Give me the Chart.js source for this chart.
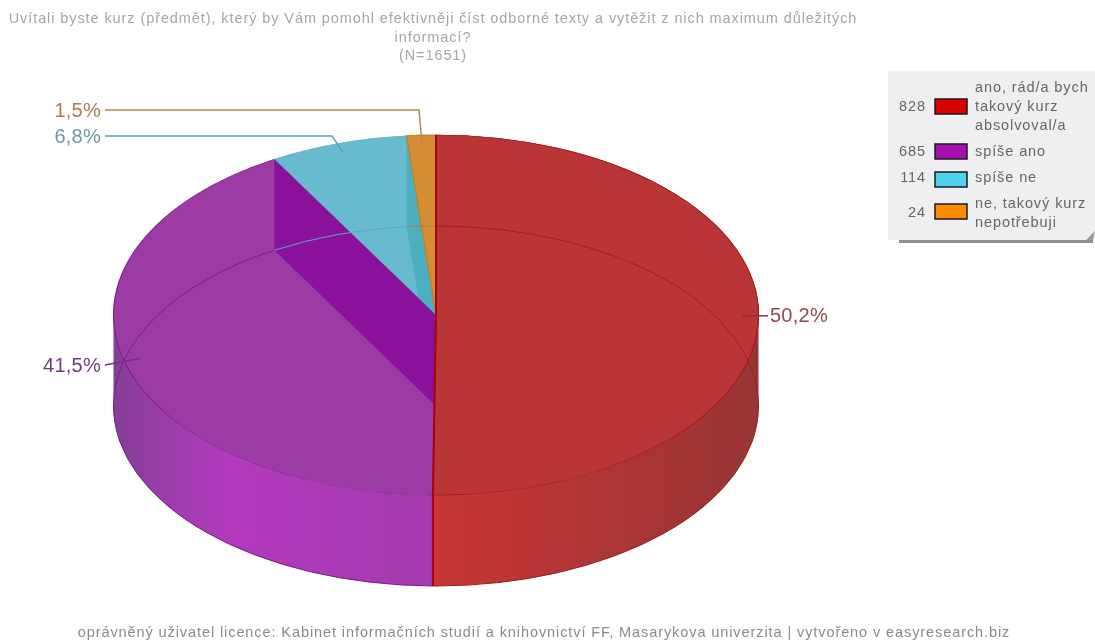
<!DOCTYPE html>
<html>
<head>
<meta charset="utf-8">
<style>
  html, body { margin: 0; padding: 0; background: #fff; }
  #wrap { position: relative; width: 1095px; height: 641px; }
  #chart { filter: blur(0.4px); }
</style>
<script src="https://cdn.jsdelivr.net/npm/chart.js@4"></script>
</head>
<body>
<div id="wrap"><canvas id="chart" width="1095" height="641"></canvas></div>
<script>
const categories = [["ano, rád/a bych", "takový kurz", "absolvoval/a"], ["spíše ano"], ["spíše ne"], ["ne, takový kurz", "nepotřebuji"]]
const counts = [828, 685, 114, 24]
const percentLabels = ["50,2%", "41,5%", "6,8%", "1,5%"]
const titleLines = ["Uvítali byste kurz (předmět), který by Vám pomohl efektivněji číst odborné texty a vytěžit z nich maximum důležitých", "informací?", "(N=1651)"]
const footerText = "oprávněný uživatel licence: Kabinet informačních studií a knihovnictví FF, Masarykova univerzita | vytvořeno v easyresearch.biz"

const topColors = ["#ba3535", "#9d3ba5", "#68bace", "#d58d33"]
const edgeColors = ["#a51d1d", "#7f1a90", "#58a9be", "#c07c22"]
const swatchColors = ["#dd0000", "#a80fb3", "#4dd2ee", "#ff8c00"]
const labelColors = ["#8f4a4a", "#6f3a7c", "#6f98a3", "#a87f50"]
const leaderColors = ["#9a2a2a", "#74308a", "#4fa3b4", "#b98a50"]

// where the flattened pie sits on the page
const CX = 436, CY = 315, RX = 322.5, RY = 180, DEPTH = 91
const FONT = "'Liberation Sans', Arial, sans-serif"
const TRACKING = "0.91px"

const ellipseAt = (angle, drop = 0) => ({
  x: CX + RX * Math.cos(angle),
  y: CY + RY * Math.sin(angle) + drop
})

// run fn with the context squashed so library arcs land on the ellipse
const squashed = (ctx, arc, fn) => {
  ctx.save()
  ctx.translate(CX, CY)
  ctx.scale(RX / arc.outerRadius, RY / arc.outerRadius)
  ctx.translate(-arc.x, -arc.y)
  fn()
  ctx.restore()
}

const sideWall = (ctx, start, end, stops, stroke) => {
  const grad = ctx.createLinearGradient(CX - RX, 0, CX + RX, 0)
  stops.forEach(s => grad.addColorStop(s[0], s[1]))
  ctx.beginPath()
  ctx.ellipse(CX, CY, RX, RY, 0, start, end)
  ctx.ellipse(CX, CY + DEPTH, RX, RY, 0, end, start, true)
  ctx.closePath()
  ctx.fillStyle = grad
  ctx.fill()
  ctx.beginPath()
  ctx.ellipse(CX, CY + DEPTH, RX, RY, 0, start, end)
  ctx.strokeStyle = stroke
  ctx.lineWidth = 1
  ctx.stroke()
}

const innerWall = (ctx, angle, color) => {
  const a = ellipseAt(angle)
  ctx.beginPath()
  ctx.moveTo(a.x, a.y)
  ctx.lineTo(CX, CY)
  ctx.lineTo(CX, CY + DEPTH)
  ctx.lineTo(a.x, a.y + DEPTH)
  ctx.closePath()
  ctx.fillStyle = color
  ctx.fill()
}

const pie3d = {
  id: "pie3d",
  beforeDraw(chart) {
    chart.ctx.letterSpacing = TRACKING
  },
  beforeDatasetsDraw(chart) {
    const ctx = chart.ctx
    const arcs = chart.getDatasetMeta(0).data
    ctx.letterSpacing = "0px"
    sideWall(ctx, arcs[0].endAngle, Math.PI,
      [[0, "#853f97"], [0.18, "#b43abf"], [0.5, "#a33aad"]], "#7a1a8c")
    sideWall(ctx, 0, arcs[0].endAngle,
      [[0.5, "#c83535"], [1, "#973535"]], "#96201f")
    ctx.save()
    ctx.translate(CX, CY)
    ctx.scale(RX / arcs[0].outerRadius, RY / arcs[0].outerRadius)
    ctx.translate(-arcs[0].x, -arcs[0].y)
  },
  afterDatasetsDraw(chart) {
    const ctx = chart.ctx
    ctx.restore()
    const arcs = chart.getDatasetMeta(0).data

    // slices stack back to front: teal wall, orange top, purple wall, red top
    innerWall(ctx, arcs[2].endAngle, "#4bafc0")
    squashed(ctx, arcs[3], () => arcs[3].draw(ctx))
    innerWall(ctx, arcs[1].endAngle, "#8a119b")
    squashed(ctx, arcs[0], () => arcs[0].draw(ctx))

    // far rim of the floor shows through the top
    const rim = [[0, -Math.PI / 2, 0], [1, Math.PI, arcs[1].endAngle], [2, arcs[2].startAngle, arcs[2].endAngle], [3, arcs[3].startAngle, arcs[3].endAngle]]
    rim.forEach(r => {
      ctx.beginPath()
      ctx.ellipse(CX, CY + DEPTH, RX, RY, 0, r[1], r[2])
      ctx.strokeStyle = edgeColors[r[0]]
      ctx.lineWidth = 1
      ctx.stroke()
    })

    // heavy red seam down the first slice's straight edges
    const redStart = ellipseAt(arcs[0].startAngle)
    const redEnd = ellipseAt(arcs[0].endAngle)
    ctx.beginPath()
    ctx.moveTo(redStart.x, redStart.y)
    ctx.lineTo(CX, CY)
    ctx.lineTo(redEnd.x, redEnd.y)
    ctx.lineTo(redEnd.x, redEnd.y + DEPTH)
    ctx.strokeStyle = "#a80606"
    ctx.lineWidth = 2
    ctx.stroke()

    // leader lines and percentages
    ctx.font = "20px " + FONT
    ctx.letterSpacing = "0.25px"
    ctx.textBaseline = "middle"
    const leaders = [
      { to: [768, null], text: [770, "left"] },
      { to: [105, 365], text: [101, "right"] },
      { elbow: [332, 136], to: [105, 136], text: [101, "right"] },
      { elbow: [419, 110], to: [105, 110], text: [101, "right"] }
    ]
    arcs.forEach((arc, i) => {
      const mid = (arc.startAngle + arc.endAngle) / 2
      const from = { x: CX + 0.95 * RX * Math.cos(mid), y: CY + 0.95 * RY * Math.sin(mid) }
      const l = leaders[i]
      const endY = l.to[1] === null ? from.y : l.to[1]
      ctx.beginPath()
      ctx.moveTo(from.x, from.y)
      if (l.elbow) ctx.lineTo(l.elbow[0], l.elbow[1])
      ctx.lineTo(l.to[0], endY)
      ctx.strokeStyle = leaderColors[i]
      ctx.lineWidth = 1.5
      ctx.stroke()
      ctx.fillStyle = labelColors[i]
      ctx.textAlign = l.text[1]
      ctx.fillText(percentLabels[i], l.text[0], endY + 1)
    })
  },
  afterDraw(chart) {
    const ctx = chart.ctx
    // legend box with its folded corner and shadow
    ctx.fillStyle = "#8f8f8f"
    ctx.fillRect(899, 240, 194, 3)
    ctx.beginPath()
    ctx.moveTo(888, 71)
    ctx.lineTo(1095, 71)
    ctx.lineTo(1095, 231)
    ctx.lineTo(1086, 240)
    ctx.lineTo(888, 240)
    ctx.closePath()
    ctx.fillStyle = "#eeeff1"
    ctx.fill()
    ctx.beginPath()
    ctx.moveTo(1095, 231)
    ctx.lineTo(1086, 240)
    ctx.lineTo(1093, 240)
    ctx.closePath()
    ctx.fillStyle = "#9a9a9a"
    ctx.fill()

    const swatchRows = [106.5, 151.5, 179.5, 211.5]
    const textRows = [107, 152, 178, 213]
    ctx.font = "14.5px " + FONT
    ctx.letterSpacing = TRACKING
    ctx.textBaseline = "middle"
    categories.forEach((lines, i) => {
      ctx.textAlign = "right"
      ctx.fillStyle = "#666"
      ctx.fillText(String(counts[i]), 926, textRows[i])
      ctx.fillStyle = swatchColors[i]
      ctx.fillRect(935, swatchRows[i] - 7.5, 32, 15)
      ctx.strokeStyle = "#1a1a1a"
      ctx.lineWidth = 1.5
      ctx.strokeRect(935, swatchRows[i] - 7.5, 32, 15)
      ctx.textAlign = "left"
      ctx.fillStyle = "#666"
      lines.forEach((line, j) => {
        ctx.fillText(line, 975, textRows[i] + (j - (lines.length - 1) / 2) * 19)
      })
    })

    // footer is centred on its own axis, not the title's
    ctx.textAlign = "center"
    ctx.fillStyle = "#8a8a8a"
    ctx.fillText(footerText, 544, 633)
  }
}

new Chart(document.getElementById("chart"), {
  type: "pie",
  data: {
    labels: categories.map(c => c.join(" ")),
    datasets: [{
      data: counts,
      backgroundColor: topColors,
      borderColor: edgeColors,
      borderWidth: 1,
      clip: false
    }]
  },
  options: {
    responsive: false,
    animation: false,
    events: [],
    layout: { padding: { right: 229 } },
    plugins: {
      legend: { display: false },
      tooltip: { enabled: false },
      title: {
        display: true,
        text: titleLines,
        color: "#a6a6a6",
        font: { family: FONT, size: 14.5, weight: "normal", lineHeight: 1.28 },
        padding: { top: 10, bottom: 6 }
      }
    }
  },
  plugins: [pie3d]
})
</script>
</body>
</html>
